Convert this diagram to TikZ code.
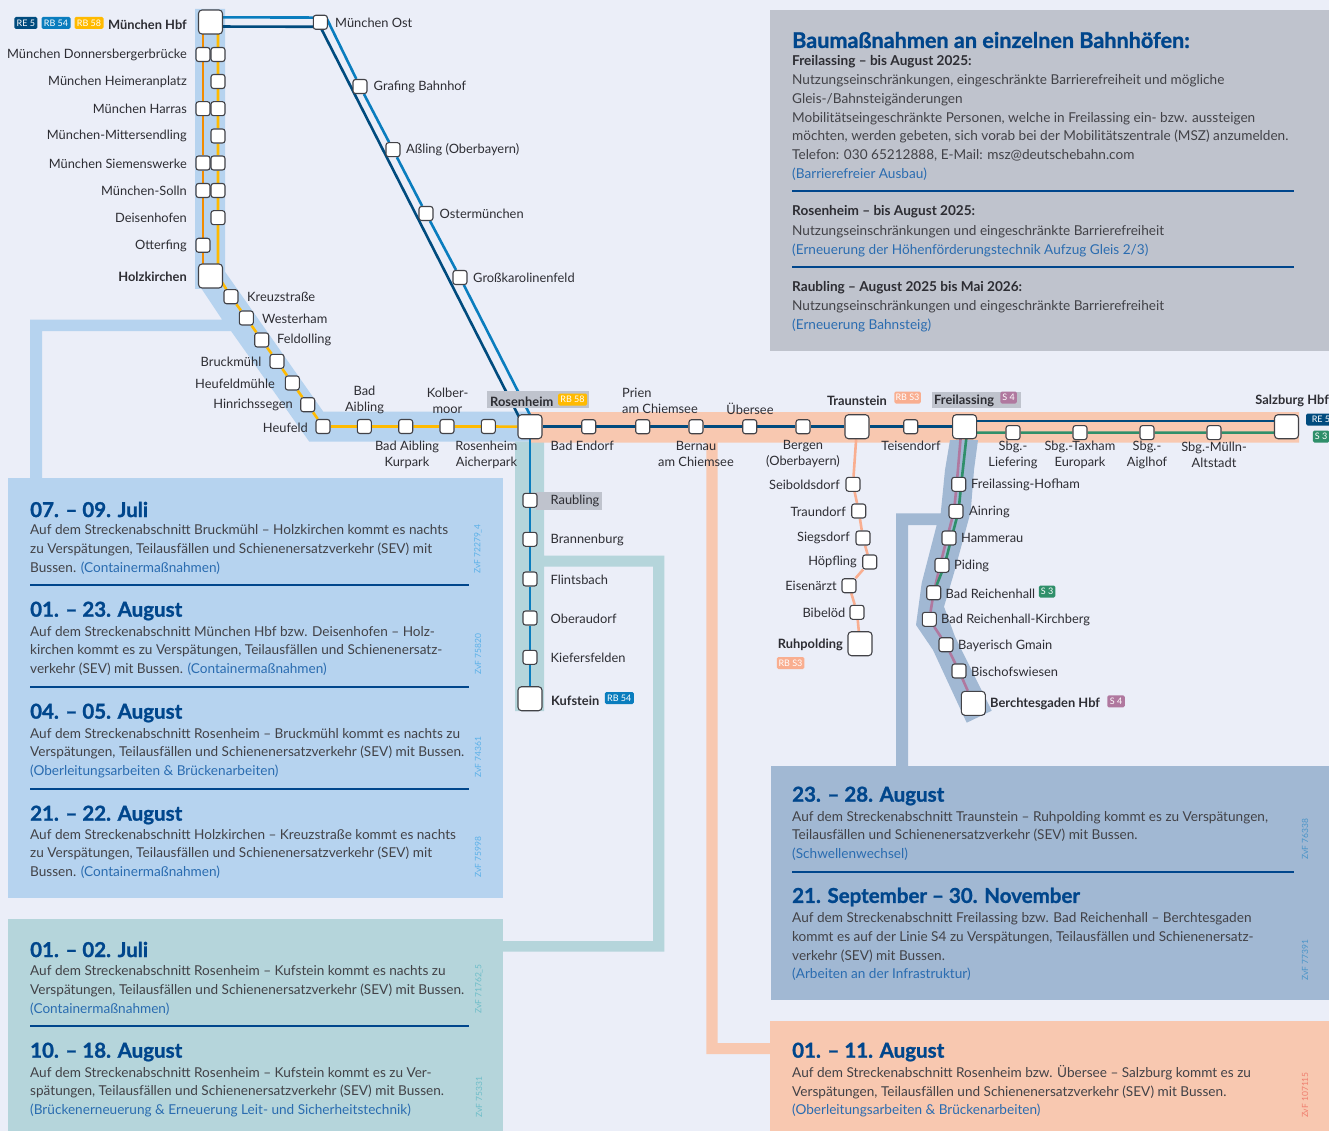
\documentclass[tikz,border=0pt]{standalone}
\usepackage{fontspec}
\setmainfont{Lato}
\newfontfamily\headfont[BoldFeatures={FakeBold=1.2}]{Lato}
\usetikzlibrary{backgrounds}
\definecolor{paper}{HTML}{EBEEF8}
\definecolor{ink}{HTML}{2D2D33}
\definecolor{headblue}{HTML}{00468C}
\definecolor{linkblue}{HTML}{2A6CB0}
\definecolor{bandblue}{HTML}{B6D3EF}
\definecolor{bandteal}{HTML}{B5D5DB}
\definecolor{bandslate}{HTML}{A1B8D3}
\definecolor{bandpeach}{HTML}{F8C8B0}
\definecolor{bandgrey}{HTML}{BFC3CD}
\definecolor{renavy}{HTML}{004B7E}
\definecolor{rbblue}{HTML}{0A7DBE}
\definecolor{rbyellow}{HTML}{FFBA00}
\definecolor{rborange}{HTML}{F28C00}
\definecolor{rbpeach}{HTML}{F9AE90}
\definecolor{smauve}{HTML}{B0789F}
\definecolor{sgreen}{HTML}{2F8F6A}
\definecolor{zblue}{HTML}{5AB0E8}
\definecolor{zteal}{HTML}{6DBDC8}
\definecolor{zslate}{HTML}{4A94C8}
\definecolor{zpeach}{HTML}{F07F6E}
\tikzstyle{stop} = [draw=ink!90, fill=white, line width=1.1pt, rounded corners=2.5pt, minimum size=14pt, inner sep=0pt]
\tikzstyle{hub} = [stop, rounded corners=3.5pt, minimum size=24pt]
\tikzstyle{lab} = [text=ink, font=\fontsize{12.85}{16}\selectfont, inner sep=0pt, yshift=-0.4pt]
\tikzstyle{ll} = [lab, anchor=east]
\tikzstyle{lr} = [lab, anchor=west]
\tikzstyle{lc} = [lab, align=center]
\tikzstyle{big} = [font=\fontsize{12.85}{16}\selectfont\bfseries]
\tikzstyle{chip} = [text=white, font=\fontsize{9}{9}\selectfont, rounded corners=1.5pt, inner sep=0pt, minimum height=12pt]
\tikzstyle{panel} = [text=ink!90, font=\fontsize{13.6}{18.7}\selectfont, align=left, anchor=north west, inner sep=0pt]
\tikzstyle{head} = [text=headblue, font=\fontsize{20.5}{22}\selectfont\headfont\bfseries, anchor=west, inner sep=0pt]
\tikzstyle{sub} = [text=ink, font=\fontsize{13.6}{16}\selectfont\bfseries, anchor=west, inner sep=0pt]
\tikzstyle{zvf} = [font=\fontsize{8.5}{9}\selectfont, rotate=90, inner sep=0pt]
\tikzstyle{rule} = [draw=headblue, line width=1.2pt]
\tikzstyle{track} = [line width=2.6pt]
\newcommand{\lnk}[1]{\textcolor{linkblue}{#1}}

\begin{document}
\begin{tikzpicture}[x=1pt,y=-1pt]
  \useasboundingbox (0,0) rectangle (1329,1131);
  % stations north
  \node[hub](hbf) at (210.5,22){};
  \node[stop](dbo) at (203,54.5){};
  \node[stop](dby) at (218,54.5){};
  \node[stop](hey) at (218,81.5){};
  \node[stop](hao) at (203,108.7){};
  \node[stop](hay) at (218,108.7){};
  \node[stop](miy) at (218,136){};
  \node[stop](sio) at (203,163){};
  \node[stop](siy) at (218,163){};
  \node[stop](soo) at (203,190.5){};
  \node[stop](soy) at (218,190.5){};
  \node[stop](dey) at (218,217.7){};
  \node[stop](oto) at (203,245.3){};
  \node[hub](hol) at (210.5,276){};
  \node[stop](kre) at (231,296.7){};
  \node[stop](wes) at (246.3,318){};
  \node[stop](fel) at (261.7,340){};
  \node[stop](bru) at (277,361.3){};
  \node[stop](hem) at (292.3,383){};
  \node[stop](hin) at (307.7,404.7){};
  \node[stop](heu) at (323,426.5){};
  \node[stop](aib) at (364.3,426.5){};
  \node[stop](kur) at (405.7,426.5){};
  \node[stop](kol) at (447,426.5){};
  \node[stop](aic) at (488.3,426.5){};
  \node[stop](ost) at (320.3,22.3){};
  \node[stop](gra) at (360,86.5){};
  \node[stop](ass) at (393,149.7){};
  \node[stop](otm) at (426,213.5){};
  \node[stop](gro) at (460,277.5){};
  \node[hub](ros) at (530,426.7){};
  % stations east
  \node[stop](end) at (588.7,426.7){};
  \node[stop](pri) at (642.7,426.7){};
  \node[stop](ber) at (696,426.7){};
  \node[stop](ueb) at (749.7,426.7){};
  \node[stop](bgn) at (803,426.7){};
  \node[hub](tra) at (857,426.7){};
  \node[stop](tei) at (910.7,426.7){};
  \node[hub](fre) at (964.6,426.7){};
  \node[stop](lie) at (1013,432.6){};
  \node[stop](tax) at (1080,432.6){};
  \node[stop](aig) at (1147,432.6){};
  \node[stop](mue) at (1214,432.6){};
  \node[hub](sal) at (1286.5,426.7){};
  % stations south
  \node[stop](rau) at (530,500.3){};
  \node[stop](bra) at (530,539.3){};
  \node[stop](fli) at (530,579){};
  \node[stop](obe) at (530,618){};
  \node[stop](kie) at (530,657.3){};
  \node[hub](kuf) at (530,698.7){};
  \node[stop](sei) at (853,484.3){};
  \node[stop](trd) at (858.7,511){};
  \node[stop](sie) at (863,538){};
  \node[stop](hoe) at (869.7,562){};
  \node[stop](eis) at (849,585.7){};
  \node[stop](bib) at (857,612.3){};
  \node[hub](ruh) at (860,643.7){};
  \node[stop](hof) at (958.7,484.3){};
  \node[stop](ain) at (956,511.3){};
  \node[stop](ham) at (949,538){};
  \node[stop](pid) at (942,565.3){};
  \node[stop](rei) at (933.7,592.7){};
  \node[stop](kir) at (929.3,619.3){};
  \node[stop](gma) at (946,644.7){};
  \node[stop](bis) at (959,671){};
  \node[hub](bgd) at (973.3,703.3){};
  \begin{scope}[on background layer]
    \fill[paper] (0,0) rectangle (1329,1131);
    % panels
    \fill[bandgrey] (770,10) rectangle (1329,351);
    \fill[bandblue] (8,478) rectangle (503,898);
    \fill[bandteal] (8,919) rectangle (503,1131);
    \fill[bandslate] (771,766) rectangle (1329,1000);
    \fill[bandpeach] (770,1021) rectangle (1329,1131);
    % bands
    \fill[bandblue] (30,478)--(30,319.5)--(222,319.5)--(201.7,289)--(195,289)--(195,9)--(225,9)--(225,271.7)--(323.3,411.7)--(530,411.7)--(530,441.7)--(309.3,441.7)--(231,331)--(42,331)--(42,478)--cycle;
    \fill[bandteal] (515,441.7)--(544,441.7)--(544,555.5)--(664.3,555.5)--(664.3,951.5)--(503,951.5)--(503,941)--(653,941)--(653,566.7)--(544,566.7)--(544,711)--(515,711)--cycle;
    \fill[bandpeach] (530,412)--(1299,412)--(1299,442.5)--(717.7,442.5)--(717.7,1043)--(770,1043)--(770,1054)--(706.3,1054)--(706.3,442.5)--(530,442.5)--cycle;
    \fill[bandslate] (950,440)--(978,440)--(974,470)--(970.7,511.7)--(954,573)--(944,606.7)--(955,636.7)--(991.7,710.7)--(966.7,722.7)--(933,650)--(916,625)--(921.7,583)--(936.7,525)--(908,525)--(908,766)--(896,766)--(896,513.3)--(940.7,513.3)--(945,470)--cycle;
    % lines
    \draw[rborange,track] ([xshift=-7.5pt]hbf.center)--(dbo)--(hao)--(sio)--(soo)--(oto)--([xshift=-7.5pt]hol.center);
    \draw[rbyellow,track] ([xshift=7.5pt]hbf.center)--(dby)--(hey)--(hay)--(miy)--(siy)--(soy)--(dey)--([xshift=7.5pt]hol.center)--(kre)--(wes)--(fel)--(bru)--(hem)--(hin)--(heu)--(aib)--(kur)--(kol)--(aic)--(ros);
    \draw[rbblue,track] ([yshift=4.7pt]hbf.center)--([yshift=4.7pt,xshift=6pt]ost.center)--(gra)--(ass)--(otm)--(gro)--([xshift=6pt]ros.center);
    \draw[renavy,track] ([yshift=-4.5pt]hbf.center)--([yshift=-4.5pt]ost.center)--([xshift=-6pt]ros.center);
    \draw[rbblue,track] (ros)--(rau)--(bra)--(fli)--(obe)--(kie)--(kuf);
    \draw[renavy,track] (ros)--(end)--(pri)--(ber)--(ueb)--(bgn)--(tra)--(tei)--(fre);
    \draw[renavy,track] ([yshift=5.7pt]fre.center)--([yshift=5.7pt]sal.center);
    \draw[sgreen,track] ([yshift=-5.9pt]fre.center)--(lie)--(tax)--(aig)--(mue)--([yshift=-5.9pt]sal.center);
    \draw[rbpeach,track] (tra)--(sei)--(trd)--(sie)--(hoe)--(eis)--(bib)--(ruh);
    \draw[smauve,track] ([xshift=-3pt]fre.center)--([xshift=-2pt]hof.center)--([xshift=-2pt]ain.center)--([xshift=-2pt]ham.center)--([xshift=-2pt]pid.center)--(rei)--(kir)--(gma)--(bis)--(bgd);
    \draw[sgreen,track] ([xshift=3pt]fre.center)--([xshift=2.5pt]hof.center)--([xshift=2.5pt]ain.center)--([xshift=2.5pt]ham.center)--([xshift=2.5pt]pid.center)--(rei);
    % label boxes
    \fill[bandgrey] (487,391) rectangle (589,408);
    \fill[bandgrey] (932,391.5) rectangle (1021,408.3);
    \fill[bandgrey] (536,492) rectangle (602,510);
  \end{scope}
  % labels north
  \node[ll,big](lhbf) at (187,24){München Hbf};
  \node[ll](ldon) at (187,54.5){München Donnersbergerbrücke};
  \node[ll](lhei) at (187,81.5){München Heimeranplatz};
  \node[ll](lhar) at (187,108.7){München Harras};
  \node[ll](lmit) at (187,136){München-Mittersendling};
  \node[ll](lsie) at (187,163){München Siemenswerke};
  \node[ll](lsol) at (187,190.5){München-Solln};
  \node[ll](ldei) at (187,217.7){Deisenhofen};
  \node[ll](lott) at (187,245.3){Otterfing};
  \node[ll,big](lhol) at (187,276){Holzkirchen};
  \node[lr](lost) at (335,22.3){München Ost};
  \node[lr](lgra) at (373.5,86.5){Grafing Bahnhof};
  \node[lr](lass) at (406,149.7){Aßling (Oberbayern)};
  \node[lr](lotm) at (439.5,213.5){Ostermünchen};
  \node[lr](lgro) at (473,277.5){Großkarolinenfeld};
  \node[lr](lkre) at (247,296.7){Kreuzstraße};
  \node[lr](lwes) at (262,318){Westerham};
  \node[lr](lfel) at (277,340){Feldolling};
  \node[ll](lbru) at (261.5,361.5){Bruckmühl};
  \node[ll](lhem) at (275,383){Heufeldmühle};
  \node[ll](lhin) at (293,404.5){Hinrichssegen};
  \node[ll](lheu) at (308,427){Heufeld};
  \node[lc](laib) at (364.5,400){Bad\\Aibling};
  \node[lc](lkol) at (447.5,400){Kolber-\\moor};
  \node[lc](lkur) at (407,454){Bad Aibling\\Kurpark};
  \node[lc](laic) at (486.5,454){Rosenheim\\Aicherpark};
  \node[lr,big](lros) at (490,401){Rosenheim};
  % labels east
  \node[lr](lend) at (550.5,445){Bad Endorf};
  \node[lab,align=left,anchor=west](lpri) at (622,400){Prien\\am Chiemsee};
  \node[lc](lber) at (696,454){Bernau\\am Chiemsee};
  \node[lc](lueb) at (750,408){Übersee};
  \node[lc](lbgn) at (803,454){Bergen\\(Oberbayern)};
  \node[lc,big](ltra) at (857,400){Traunstein};
  \node[lc](ltei) at (911,445){Teisendorf};
  \node[lr,big](lfre) at (934,400){Freilassing};
  \node[lc](llie) at (1013,454.5){Sbg.-\\Liefering};
  \node[lc](ltax) at (1080,454.5){Sbg.-Taxham\\Europark};
  \node[lc](laig) at (1147,454.5){Sbg.-\\Aiglhof};
  \node[lc](lmue) at (1214,454.5){Sbg.-Mülln-\\Altstadt};
  \node[ll,big](lsal) at (1329,400){Salzburg Hbf};
  % labels south
  \node[lr](lrau) at (550.5,500.3){Raubling};
  \node[lr](lbra) at (550.5,539.3){Brannenburg};
  \node[lr](lfli) at (550.5,579){Flintsbach};
  \node[lr](lobe) at (550.5,618){Oberaudorf};
  \node[lr](lkie) at (550.5,657.3){Kiefersfelden};
  \node[lr,big](lkuf) at (551,700){Kufstein};
  \node[ll](lsei) at (840,484.3){Seiboldsdorf};
  \node[ll](ltrd) at (846,511){Traundorf};
  \node[ll](lsgd) at (850,538){Siegsdorf};
  \node[ll](lhoe) at (857,562){Höpfling};
  \node[ll](leis) at (837,585.7){Eisenärzt};
  \node[ll](lbib) at (845.5,612.3){Bibelöd};
  \node[ll,big](lruh) at (843,644){Ruhpolding};
  \node[lr](lhof) at (971,484.5){Freilassing-Hofham};
  \node[lr](lain) at (969,511.5){Ainring};
  \node[lr](lham) at (961,538){Hammerau};
  \node[lr](lpid) at (954,565.3){Piding};
  \node[lr](lrei) at (945.5,593){Bad Reichenhall};
  \node[lr](lkir) at (941,619.5){Bad Reichenhall-Kirchberg};
  \node[lr](lgma) at (958,645){Bayerisch Gmain};
  \node[lr](lbis) at (971,671.5){Bischofswiesen};
  \node[lr,big](lbgd) at (990,703.5){Berchtesgaden Hbf};
  % chips
  \node[chip,fill=renavy,minimum width=23pt](cre) at (25.8,23){RE 5};
  \node[chip,fill=rbblue,minimum width=29pt](cbl) at (56,23){RB 54};
  \node[chip,fill=rbyellow,minimum width=29pt](cye) at (89,23){RB 58};
  \node[chip,fill=rbyellow,minimum width=29pt](cros) at (572.5,399.5){RB 58};
  \node[chip,fill=rbpeach,minimum width=26.5pt](ctra) at (907.5,397.5){RB S3};
  \node[chip,fill=smauve,minimum width=16.5pt](cfre) at (1008.5,397.5){S 4};
  \node[chip,fill=renavy,minimum width=30pt](csre) at (1321,419.5){RE 5};
  \node[chip,fill=sgreen,minimum width=16.5pt](css) at (1321,436.5){S 3};
  \node[chip,fill=rbblue,minimum width=29pt](ckuf) at (619.3,698){RB 54};
  \node[chip,fill=rbpeach,minimum width=27.5pt](cruh) at (790.5,663){RB S3};
  \node[chip,fill=sgreen,minimum width=16.5pt](crei) at (1047,591.5){S 3};
  \node[chip,fill=smauve,minimum width=17.5pt](cbgd) at (1116,701.3){S 4};
  % grey panel
  \node[head,font=\fontsize{21.6}{22}\selectfont\headfont\bfseries](tbau) at (792,40){Baumaßnahmen an einzelnen Bahnhöfen:};
  \node[sub](tfre) at (792,62){Freilassing – bis August 2025:};
  \node[panel](bfre) at (792,74.5){Nutzungseinschränkungen, eingeschränkte Barrierefreiheit und mögliche\\Gleis-/Bahnsteigänderungen\\Mobilitätseingeschränkte Personen, welche in Freilassing ein- bzw. aussteigen\\möchten, werden gebeten, sich vorab bei der Mobilitätszentrale (MSZ) anzumelden.\\Telefon: 030 65212888, E-Mail: msz@deutschebahn.com\\\lnk{(Barrierefreier Ausbau)}};
  \draw[rule] (792,191)--(1294,191);
  \node[sub](tros) at (792,212){Rosenheim – bis August 2025:};
  \node[panel](bros) at (792,225.5){Nutzungseinschränkungen und eingeschränkte Barrierefreiheit\\\lnk{(Erneuerung der Höhenförderungstechnik Aufzug Gleis 2/3)}};
  \draw[rule] (792,267)--(1294,267);
  \node[sub](trau) at (792,288){Raubling – August 2025 bis Mai 2026:};
  \node[panel](brau) at (792,300.5){Nutzungseinschränkungen und eingeschränkte Barrierefreiheit\\\lnk{(Erneuerung Bahnsteig)}};
  % blue panel
  \node[head](tb1) at (30,509.5){07. – 09. Juli};
  \node[panel](pb1) at (30,524.5){Auf dem Streckenabschnitt Bruckmühl – Holzkirchen kommt es nachts\\zu Verspätungen, Teilausfällen und Schienenersatzverkehr (SEV) mit\\Bussen. \lnk{(Containermaßnahmen)}};
  \draw[rule] (30,585)--(469,585);
  \node[head](tb2) at (30,611){01. – 23. August};
  \node[panel](pb2) at (30,626){Auf dem Streckenabschnitt München Hbf bzw. Deisenhofen – Holz-\\kirchen kommt es zu Verspätungen, Teilausfällen und Schienenersatz-\\verkehr (SEV) mit Bussen. \lnk{(Containermaßnahmen)}};
  \draw[rule] (30,687)--(469,687);
  \node[head](tb3) at (30,713){04. – 05. August};
  \node[panel](pb3) at (30,728){Auf dem Streckenabschnitt Rosenheim – Bruckmühl kommt es nachts zu\\Verspätungen, Teilausfällen und Schienenersatzverkehr (SEV) mit Bussen.\\\lnk{(Oberleitungsarbeiten \& Brückenarbeiten)}};
  \draw[rule] (30,789)--(469,789);
  \node[head](tb4) at (30,815){21. – 22. August};
  \node[panel](pb4) at (30,829){Auf dem Streckenabschnitt Holzkirchen – Kreuzstraße kommt es nachts\\zu Verspätungen, Teilausfällen und Schienenersatzverkehr (SEV) mit\\Bussen. \lnk{(Containermaßnahmen)}};
  % teal panel
  \node[head](tt1) at (30,949.5){01. – 02. Juli};
  \node[panel](pt1) at (30,965.5){Auf dem Streckenabschnitt Rosenheim – Kufstein kommt es nachts zu\\Verspätungen, Teilausfällen und Schienenersatzverkehr (SEV) mit Bussen.\\\lnk{(Containermaßnahmen)}};
  \draw[rule] (30,1026)--(469,1026);
  \node[head](tt2) at (30,1052){10. – 18. August};
  \node[panel](pt2) at (30,1067){Auf dem Streckenabschnitt Rosenheim – Kufstein kommt es zu Ver-\\spätungen, Teilausfällen und Schienenersatzverkehr (SEV) mit Bussen.\\\lnk{(Brückenerneuerung \& Erneuerung Leit- und Sicherheitstechnik)}};
  % slate panel
  \node[head](ts1) at (792,796){23. – 28. August};
  \node[panel](ps1) at (792,811){Auf dem Streckenabschnitt Traunstein – Ruhpolding kommt es zu Verspätungen,\\Teilausfällen und Schienenersatzverkehr (SEV) mit Bussen.\\\lnk{(Schwellenwechsel)}};
  \draw[rule] (792,872)--(1294,872);
  \node[head](ts2) at (792,897){21. September – 30. November};
  \node[panel](ps2) at (792,912.5){Auf dem Streckenabschnitt Freilassing bzw. Bad Reichenhall – Berchtesgaden\\kommt es auf der Linie S4 zu Verspätungen, Teilausfällen und Schienenersatz-\\verkehr (SEV) mit Bussen.\\\lnk{(Arbeiten an der Infrastruktur)}};
  % peach panel
  \node[head](tp1) at (792,1052){01. – 11. August};
  \node[panel](pp1) at (792,1065){Auf dem Streckenabschnitt Rosenheim bzw. Übersee – Salzburg kommt es zu\\Verspätungen, Teilausfällen und Schienenersatzverkehr (SEV) mit Bussen.\\\lnk{(Oberleitungsarbeiten \& Brückenarbeiten)}};
  % order numbers
  \node[zvf,text=zblue](z1) at (478,549){ZvF 72279\_4};
  \node[zvf,text=zblue](z2) at (478,654){ZvF 75820};
  \node[zvf,text=zblue](z3) at (478,757){ZvF 74361};
  \node[zvf,text=zblue](z4) at (478,857){ZvF 75998};
  \node[zvf,text=zteal](z5) at (479,989){ZvF 71762\_5};
  \node[zvf,text=zteal](z6) at (479,1097){ZvF 75331};
  \node[zvf,text=zslate](z7) at (1305,839){ZvF 76338};
  \node[zvf,text=zslate](z8) at (1305,960){ZvF 77391};
  \node[zvf,text=zpeach](z9) at (1305,1095){ZvF 107115};
\end{tikzpicture}
\end{document}
